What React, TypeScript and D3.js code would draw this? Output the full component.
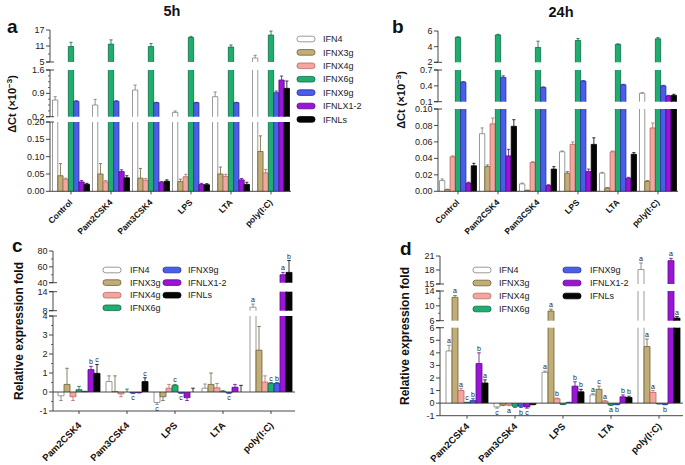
import React from "react";
import * as d3 from "d3";

const genes = ["IFN4", "IFNX3g", "IFNX4g", "IFNX6g", "IFNX9g", "IFNLX1-2", "IFNLs"];
const geneFill = ["#ffffff", "#c0ad78", "#f4a59e", "#1fae70", "#4a5ee8", "#9b15d6", "#050505"];
const geneStroke = ["#808080", "#6e6134", "#b56a63", "#0e6a43", "#25309a", "#5a0a86", "#000000"];

const categoriesTime = ["Control", "Pam2CSK4", "Pam3CSK4", "LPS", "LTA", "poly(I:C)"];
const categoriesFold = ["Pam2CSK4", "Pam3CSK4", "LPS", "LTA", "poly(I:C)"];

// Panel a (5h), gene-major: [gene][category]
const values5h = [
  [0.7, 0.55, 1.0, 0.33, 0.8, 6.5],
  [0.045, 0.05, 0.038, 0.028, 0.05, 0.115],
  [0.035, 0.027, 0.032, 0.042, 0.043, 0.053],
  [10.8, 11.7, 10.8, 14.2, 10.6, 15.1],
  [0.66, 0.66, 0.62, 0.62, 0.62, 0.92],
  [0.027, 0.057, 0.026, 0.02, 0.033, 1.3],
  [0.02, 0.039, 0.029, 0.019, 0.02, 1.05],
];
const errors5h = [
  [0.1, 0.17, 0.15, 0.04, 0.14, 1.0],
  [0.035, 0.03, 0.028, 0.007, 0.02, 0.045],
  [0.003, 0.004, 0.005, 0.007, 0.006, 0.01],
  [1.6, 1.6, 1.1, 0.4, 0.8, 1.5],
  [0.02, 0.02, 0.01, 0.01, 0.01, 0.05],
  [0.004, 0.005, 0.002, 0.003, 0.004, 0.12],
  [0.003, 0.006, 0.004, 0.003, 0.006, 0.22],
];

// Panel b (24h)
const values24h = [
  [0.013, 0.07, 0.009, 0.048, 0.022, 0.26],
  [0.002, 0.03, 0.001, 0.022, 0.004, 0.012],
  [0.042, 0.082, 0.035, 0.057, 0.048, 0.077],
  [5.2, 5.5, 3.9, 4.8, 4.3, 5.0],
  [0.47, 0.56, 0.37, 0.49, 0.42, 0.4],
  [0.01, 0.043, 0.007, 0.024, 0.016, 0.21],
  [0.031, 0.079, 0.027, 0.057, 0.045, 0.22],
];
const errors24h = [
  [0.002, 0.007, 0.001, 0.001, 0.001, 0.01],
  [0.0005, 0.002, 0.0005, 0.002, 0.0005, 0.001],
  [0.001, 0.007, 0.001, 0.003, 0.001, 0.006],
  [0.05, 0.08, 0.8, 0.25, 0.05, 0.15],
  [0.01, 0.03, 0.01, 0.01, 0.01, 0.01],
  [0.001, 0.008, 0.001, 0.003, 0.001, 0.01],
  [0.003, 0.008, 0.003, 0.008, 0.002, 0.02],
];

// Panel c (fold, 5h)
const valuesFold5h = [
  [-0.2, 0.55, -0.55, 0.2, 9.1],
  [0.4, 0.02, -0.25, 0.4, 2.2],
  [-0.25, -0.1, 0.2, 0.22, 0.52],
  [0.12, 0.0, 0.35, 0.02, 0.45],
  [0.02, -0.05, -0.05, -0.05, 0.45],
  [1.18, -0.03, -0.3, 0.25, 50],
  [0.98, 0.55, 0.0, 0.0, 53],
];
const errorsFold5h = [
  [0.25, 0.3, 0.1, 0.22, 1.0],
  [0.85, 0.83, 0.2, 0.6, 1.25],
  [0.2, 0.15, 0.2, 0.23, 0.33],
  [0.18, 0.15, 0.05, 0.05, 0.05],
  [0.02, 0.02, 0.02, 0.02, 0.05],
  [0.17, 0.02, 0.15, 0.15, 3],
  [0.47, 0.2, 0.2, 0.35, 15],
];
const lettersFold5h = [
  ["", "", "c", "", "a"],
  ["", "", "", "", ""],
  ["", "", "", "", ""],
  ["", "", "c", "", "c"],
  ["", "c", "c", "c", "b"],
  ["b", "", "", "", "a"],
  ["c", "c", "", "", "b"],
];

// Panel d (fold, 24h)
const valuesFold24h = [
  [4.15, -0.3, 2.45, 0.65, 18.1],
  [12.3, -0.15, 8.6, 1.1, 4.5],
  [1.0, -0.15, 0.35, 0.15, 0.85],
  [0.05, -0.25, -0.1, -0.15, -0.05],
  [0.2, -0.25, 0.05, -0.1, -0.1],
  [3.15, -0.3, 1.35, 0.5, 20],
  [1.6, -0.1, 0.9, 0.45, 6.7],
];
const errorsFold24h = [
  [0.45, 0.1, 0.1, 0.1, 1.4],
  [0.5, 0.05, 0.5, 0.25, 0.6],
  [0.15, 0.05, 0.05, 0.05, 0.15],
  [0.02, 0.1, 0.02, 0.03, 0.02],
  [0.15, 0.1, 0.02, 0.03, 0.03],
  [0.85, 0.1, 0.35, 0.15, 0.5],
  [0.25, 0.03, 0.2, 0.1, 0.4],
];
const lettersFold24h = [
  ["a", "c", "a", "a", "a"],
  ["a", "", "a", "c", "a"],
  ["a", "a", "b", "a", "a"],
  ["c", "", "", "a", ""],
  ["b", "b", "", "b", "b"],
  ["b", "c", "b", "b", "a"],
  ["a", "", "b", "b", "a"],
];

// tick labels per axis segment
const ticksA = [[0, 0.05, 0.1, 0.15, 0.2], [0.2, 0.9, 1.6], [5, 11, 17]];
const ticksB = [[0, 0.02, 0.04, 0.06, 0.08, 0.1], [0.1, 0.4, 0.7], [2, 4, 6]];
const ticksC = [[-1, 0, 1, 2, 3, 4], [8, 14], [40, 60, 80]];
const ticksD = [[-1, 0, 1, 2, 3, 4, 5, 6], [6, 10, 14], [15, 18, 21]];

const FONT = "Arial, 'Liberation Sans', Helvetica, sans-serif";

type Seg = { dom: [number, number]; rng: [number, number]; ticks: number[]; fmt: (v: number) => string; minor?: number[] };
type PanelCfg = {
  cats: string[];
  values: number[][];
  errors: number[][];
  letters?: string[][];
  axisX: number;
  xRange: [number, number];
  pad: number;
  xAxisY: number;
  zeroLine: boolean;
  segs: Seg[];
  labelDx: number;
  labelY: number;
  labelSize: number;
};

function Panel({ p }: { p: PanelCfg }) {
  const xb = d3.scaleBand<string>().domain(p.cats).range(p.xRange).paddingInner(p.pad).paddingOuter(p.pad / 2);
  const xi = d3.scaleBand<string>().domain(genes).range([0, xb.bandwidth()]);
  const scales = p.segs.map((s) => d3.scaleLinear().domain(s.dom).range(s.rng));
  const segIndex = (v: number) => {
    for (let i = 0; i < p.segs.length; i++) {
      const d = p.segs[i].dom;
      if (v >= d[0] - 1e-9 && v <= d[1] + 1e-9) return i;
    }
    if (v > p.segs[p.segs.length - 1].dom[1]) return p.segs.length - 1;
    if (v < p.segs[0].dom[0]) return 0;
    for (let i = p.segs.length - 1; i >= 0; i--) if (v > p.segs[i].dom[1]) return i;
    return 0;
  };
  const y = (v: number) => {
    const i = segIndex(v);
    const d = p.segs[i].dom;
    return scales[i](Math.max(d[0], Math.min(d[1], v)));
  };
  const els: React.ReactNode[] = [];
  const w = xi.bandwidth();
  genes.forEach((g, gi) => {
    p.cats.forEach((c, ci) => {
      const v = p.values[gi][ci];
      const e = p.errors[gi][ci];
      const x = (xb(c) as number) + (xi(g) as number);
      const lo0 = Math.min(0, v), hi0 = Math.max(0, v);
      p.segs.forEach((s, si) => {
        const lo = Math.max(s.dom[0], lo0), hi = Math.min(s.dom[1], hi0);
        if (hi - lo <= 1e-9) return;
        const y1 = scales[si](hi), y2 = scales[si](lo);
        let path = `M${x},${y2}V${y1}M${x + w},${y2}V${y1}`;
        if (v > 0 && Math.abs(hi - v) < 1e-9) path += `M${x},${y1}H${x + w}`;
        if (v < 0 && Math.abs(lo - v) < 1e-9) path += `M${x},${y2}H${x + w}`;
        els.push(<rect key={`r${gi}-${ci}-${si}`} x={x} y={y1} width={w} height={Math.max(0, y2 - y1)} fill={geneFill[gi]} />);
        els.push(<path key={`o${gi}-${ci}-${si}`} d={path} stroke={geneStroke[gi]} strokeWidth={0.8} fill="none" />);
      });
      const sign = v < 0 ? -1 : 1;
      const end = v + sign * e;
      const cx = x + w / 2;
      if (e > 0) {
        const ya = y(v), yb = y(end);
        const cw = w * 0.3;
        els.push(
          <path key={`e${gi}-${ci}`} d={`M${cx},${ya}V${yb}M${cx - cw},${yb}H${cx + cw}`} stroke={gi === 0 ? "#777" : geneStroke[gi]} strokeWidth={0.8} fill="none" />
        );
      }
      const L = p.letters ? p.letters[gi][ci] : "";
      if (L) {
        const ly = sign > 0 ? y(end) - 2 : y(end) + 7;
        els.push(
          <text key={`l${gi}-${ci}`} x={cx} y={ly} fontSize={7} textAnchor="middle" fill="#222" fontFamily={FONT}>
            {L}
          </text>
        );
      }
    });
  });

  const axis: React.ReactNode[] = [];
  p.segs.forEach((s, si) => {
    axis.push(<line key={`ax${si}`} x1={p.axisX} x2={p.axisX} y1={s.rng[0]} y2={s.rng[1]} stroke="#333" strokeWidth={0.9} />);
    s.ticks.forEach((t, ti) => {
      const yy = scales[si](t);
      axis.push(<line key={`t${si}-${ti}`} x1={p.axisX - 4} x2={p.axisX} y1={yy} y2={yy} stroke="#333" strokeWidth={0.9} />);
      axis.push(
        <text key={`tl${si}-${ti}`} x={p.axisX - 5.5} y={yy} dy="0.34em" fontSize={9} textAnchor="end" fill="#222" fontFamily={FONT}>
          {s.fmt(t)}
        </text>
      );
    });
    (s.minor || []).forEach((t, ti) => {
      const yy = scales[si](t);
      axis.push(<line key={`m${si}-${ti}`} x1={p.axisX - 2} x2={p.axisX} y1={yy} y2={yy} stroke="#333" strokeWidth={0.7} />);
    });
    if (si > 0) {
      const yy = s.rng[0];
      axis.push(<line key={`bk${si}a`} x1={p.axisX - 4} x2={p.axisX + 4} y1={yy} y2={yy} stroke="#333" strokeWidth={0.9} />);
    }
    if (si < p.segs.length - 1) {
      const yy = s.rng[1];
      axis.push(<line key={`bk${si}b`} x1={p.axisX - 4} x2={p.axisX + 4} y1={yy} y2={yy} stroke="#333" strokeWidth={0.9} />);
    }
  });
  axis.push(<line key="xa" x1={p.axisX} x2={p.xRange[1]} y1={p.xAxisY} y2={p.xAxisY} stroke="#333" strokeWidth={0.9} />);
  if (p.zeroLine) axis.push(<line key="zl" x1={p.axisX} x2={p.xRange[1]} y1={y(0)} y2={y(0)} stroke="#333" strokeWidth={0.9} />);
  p.cats.forEach((c, ci) => {
    const cx = (xb(c) as number) + xb.bandwidth() / 2;
    axis.push(<line key={`xt${ci}`} x1={cx} x2={cx} y1={p.xAxisY} y2={p.xAxisY + 3} stroke="#333" strokeWidth={0.9} />);
    axis.push(
      <text key={`xl${ci}`} transform={`translate(${cx + p.labelDx},${p.labelY}) rotate(-45)`} textAnchor="end" fontSize={p.labelSize} fontWeight="bold" fill="#111" fontFamily={FONT}>
        {c}
      </text>
    );
  });
  return (
    <g>
      {els}
      {axis}
    </g>
  );
}

function Legend({ items, x, y0, step, textX }: { items: number[]; x: number; y0: number; step: number; textX: number }) {
  return (
    <g>
      {items.map((gi, i) => (
        <g key={gi}>
          <rect x={x} y={y0 + i * step - 2.8} width={18} height={5.6} rx={2.6} fill={geneFill[gi]} stroke={geneStroke[gi]} strokeWidth={0.8} />
          <text x={textX} y={y0 + i * step} dy="0.35em" fontSize={9} fill="#222" fontFamily={FONT}>
            {genes[gi]}
          </text>
        </g>
      ))}
    </g>
  );
}

const f2 = (v: number) => v.toFixed(2);
const f1 = (v: number) => v.toFixed(1);
const f0 = (v: number) => String(v);

export default function App() {
  const pa: PanelCfg = {
    cats: categoriesTime, values: values5h, errors: errors5h,
    axisX: 50, xRange: [51, 291], pad: 0.075, xAxisY: 191.3, zeroLine: false,
    segs: [
      { dom: [0, 0.2], rng: [191.3, 122], ticks: ticksA[0], fmt: f2 },
      { dom: [0.2, 1.6], rng: [116.7, 70], ticks: ticksA[1], fmt: f1, minor: [0.375, 0.55, 0.725, 1.075, 1.25, 1.425] },
      { dom: [5, 17], rng: [62, 30], ticks: ticksA[2], fmt: f0, minor: [8, 14] },
    ],
    labelDx: 2, labelY: 203, labelSize: 8.5,
  };
  const pb: PanelCfg = {
    cats: categoriesTime, values: values24h, errors: errors24h,
    axisX: 438, xRange: [438, 678], pad: 0.075, xAxisY: 191.3, zeroLine: false,
    segs: [
      { dom: [0, 0.1], rng: [191.3, 109], ticks: ticksB[0], fmt: f2 },
      { dom: [0.1, 0.7], rng: [101.7, 70], ticks: ticksB[1], fmt: f1 },
      { dom: [2, 6], rng: [62.3, 31], ticks: ticksB[2], fmt: f0 },
    ],
    labelDx: 2, labelY: 203, labelSize: 8.5,
  };
  const pc: PanelCfg = {
    cats: categoriesFold, values: valuesFold5h, errors: errorsFold5h, letters: lettersFold5h,
    axisX: 53, xRange: [55, 295], pad: 0.125, xAxisY: 411, zeroLine: true,
    segs: [
      { dom: [-1, 4], rng: [411, 316], ticks: ticksC[0], fmt: f0, minor: [-0.5, 0.5, 1.5, 2.5, 3.5] },
      { dom: [8, 14], rng: [310.7, 291.7], ticks: ticksC[1], fmt: f0 },
      { dom: [40, 80], rng: [282.7, 251], ticks: ticksC[2], fmt: f0, minor: [50, 70] },
    ],
    labelDx: 3, labelY: 426, labelSize: 9.5,
  };
  const pd: PanelCfg = {
    cats: categoriesFold, values: valuesFold24h, errors: errorsFold24h, letters: lettersFold24h,
    axisX: 440, xRange: [443, 683], pad: 0.125, xAxisY: 415.7, zeroLine: true,
    segs: [
      { dom: [-1, 6], rng: [415.7, 327.7], ticks: ticksD[0], fmt: f0 },
      { dom: [6, 14], rng: [320.7, 291], ticks: ticksD[1], fmt: f0, minor: [8, 12] },
      { dom: [15, 21], rng: [284, 256], ticks: ticksD[2], fmt: f0 },
    ],
    labelDx: 3, labelY: 427, labelSize: 9.5,
  };

  const dct = (x: number, y: number) => (
    <text transform={`translate(${x},${y}) rotate(-90)`} textAnchor="middle" fontSize={11} fontWeight="bold" fill="#111" fontFamily={FONT}>
      ΔCt (×10<tspan dy={-4} fontSize={8}>−3</tspan>
      <tspan dy={4}>)</tspan>
    </text>
  );
  const ref = (x: number, y: number) => (
    <text transform={`translate(${x},${y}) rotate(-90)`} textAnchor="middle" fontSize={12} fontWeight="bold" fill="#111" fontFamily={FONT}>
      Relative expression fold
    </text>
  );

  return (
    <svg width={685} height={465} style={{ position: "absolute", left: 0, top: 0, background: "#fff" }} fontFamily={FONT}>
      <rect width={685} height={465} fill="#fff" />
      <text x={172} y={16} textAnchor="middle" fontSize={14.5} fontWeight="bold" fill="#111">5h</text>
      <text x={561} y={17} textAnchor="middle" fontSize={14.5} fontWeight="bold" fill="#111">24h</text>
      <text x={7} y={33} fontSize={19} fontWeight="bold" fill="#111">a</text>
      <text x={392} y={33} fontSize={19} fontWeight="bold" fill="#111">b</text>
      <text x={12} y={252} fontSize={19} fontWeight="bold" fill="#111">c</text>
      <text x={400} y={255} fontSize={19} fontWeight="bold" fill="#111">d</text>
      {dct(16, 104)}
      {dct(405, 100)}
      {ref(23, 331)}
      {ref(409, 336)}
      <Panel p={pa} />
      <Panel p={pb} />
      <Panel p={pc} />
      <Panel p={pd} />
      <Legend items={[0, 1, 2, 3, 4, 5, 6]} x={297} y0={39} step={13.4} textX={323} />
      <Legend items={[0, 1, 2, 3]} x={103} y0={270} step={12.6} textX={130} />
      <Legend items={[4, 5, 6]} x={163} y0={270} step={12.6} textX={188} />
      <Legend items={[0, 1, 2, 3]} x={473} y0={270} step={13} textX={499} />
      <Legend items={[4, 5, 6]} x={563} y0={270} step={13} textX={590} />
    </svg>
  );
}
